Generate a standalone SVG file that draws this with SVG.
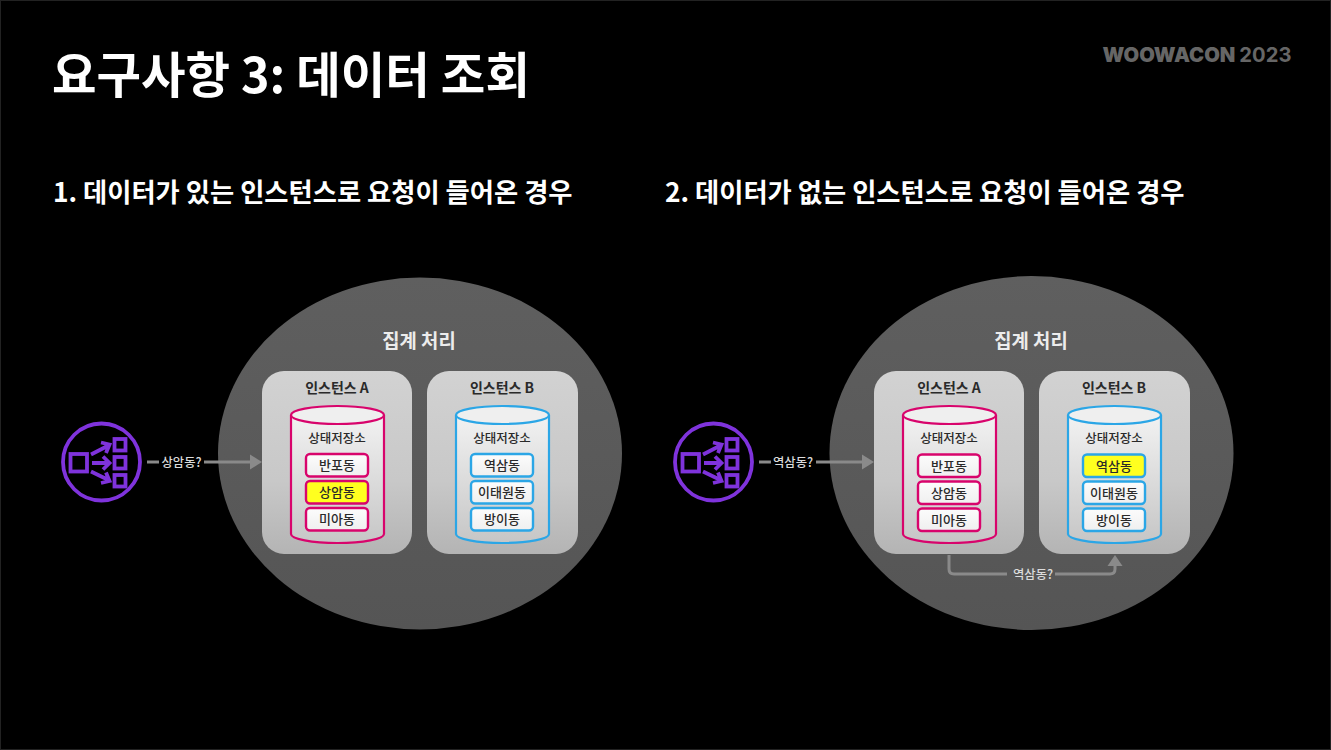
<svg xmlns="http://www.w3.org/2000/svg" width="1331" height="750" viewBox="0 0 1331 750">
<style>
text{font-family:"Noto Sans CJK KR","Noto Sans",sans-serif;text-anchor:middle}
.title{font-size:48.400px;font-weight:700;fill:#fff;text-anchor:start}
.sub{font-size:26.300px;font-weight:700;fill:#fff;text-anchor:start}
.group{font-size:18.800px;font-weight:700;fill:#ececec}
.inst{font-size:14px;font-weight:700;fill:#2a2a2a}
.store{font-size:12.500px;font-weight:500;fill:#2a2a2a}
.pill{font-size:13px;font-weight:500;fill:#2a2a2a}
.q{font-size:12.300px;font-weight:500;fill:#dcdcdc}
.box{fill:url(#boxG)}
.cyl{fill:url(#cylG);stroke-width:2.200}
.top{fill:#efefef;stroke-width:2.200}
.p{fill:url(#pillG);stroke-width:2.400}
.pk{stroke:#d8046c}.bl{stroke:#2ba6e6}
.hi{fill:#ffff1f}
.ic{fill:none;stroke:#7f33dc;stroke-width:3.800}
.line{fill:none;stroke:#8a8a8a;stroke-width:3}
.head{fill:#8a8a8a}
</style>
<defs>
<linearGradient id="boxG" x1="0" y1="0" x2="0" y2="1"><stop offset="0" stop-color="#d2d2d2"/><stop offset="0.6" stop-color="#c8c8c8"/><stop offset="1" stop-color="#b4b4b4"/></linearGradient>
<linearGradient id="cylG" x1="0" y1="0" x2="0" y2="1"><stop offset="0" stop-color="#f2f2f2"/><stop offset="1" stop-color="#c6c6c6"/></linearGradient>
<linearGradient id="pillG" x1="0" y1="0" x2="0" y2="1"><stop offset="0" stop-color="#fcfcfc"/><stop offset="1" stop-color="#efefef"/></linearGradient>
<linearGradient id="regG" x1="0" y1="0" x2="0" y2="1"><stop offset="0" stop-color="#5f5f5f"/><stop offset="1" stop-color="#555"/></linearGradient>
<g id="icon">
<circle class="ic" cx="101.500" cy="462" r="38.500"/>
<rect class="ic" x="70.500" y="454" width="16.500" height="17.500"/>
<rect class="ic" x="114.500" y="439" width="11" height="11.500"/>
<rect class="ic" x="114.500" y="457" width="11" height="11.500"/>
<rect class="ic" x="114.500" y="475" width="11" height="11.500"/>
<path class="ic" d="M91 454.500L108.500 445.500M92 463H108.500M91 471.500L108.500 480M101 442.500L109.500 444.500L106 453M103 456.500L109.500 463L103 469.500M106 472.500L109.500 481L101 483"/>
</g>
</defs>
<rect x="0.500" y="0.500" width="1330" height="749" fill="#000" stroke="#222"/>
<text class="title" x="52" y="93">요구사항 3: 데이터 조회</text>
<text x="1197" y="62" style="font-family:Inter,'Liberation Sans',sans-serif;font-size:20.200px;font-weight:900;fill:#666">WOOWACON <tspan style="font-weight:700">2023</tspan></text>
<text class="sub" x="53" y="202">1. 데이터가 있는 인스턴스로 요청이 들어온 경우</text>
<text class="sub" x="665" y="202">2. 데이터가 없는 인스턴스로 요청이 들어온 경우</text>

<g id="region-left"><ellipse cx="420" cy="453.500" rx="202" ry="176" fill="url(#regG)"/><text class="group" x="419" y="348">집계 처리</text></g>
<g id="region-right"><ellipse cx="1031.500" cy="453" rx="202" ry="177" fill="url(#regG)"/><text class="group" x="1031" y="348">집계 처리</text></g>

<g id="connectors">
<path class="line" d="M147 462H159M204 462H251"/><path class="head" d="M262 462L250 454.500V469.500Z"/>
<path class="line" d="M759 462H771M816 462H863"/><path class="head" d="M874 462L862 454.500V469.500Z"/>
<path class="line" d="M949 555V569Q949 574 954 574H1007M1055 574H1110Q1115 574 1115 569V564"/><path class="head" d="M1115 555L1107.500 566H1122.500Z"/>
<text class="q" x="181.500" y="466.500">상암동?</text>
<text class="q" x="793" y="467">역삼동?</text>
<text class="q" x="1033" y="579">역삼동?</text>
</g>

<g id="source-1"><use href="#icon"/></g>
<g id="source-2" transform="translate(612 0)"><use href="#icon"/></g>

<g id="instance-a1">
<rect class="box" x="262" y="371" width="150" height="183" rx="22"/>
<text class="inst" x="337" y="393">인스턴스 A</text>
<path class="cyl pk" d="M291 415V534C291 539 312 543 337.500 543S384 539 384 534V415"/>
<ellipse class="top pk" cx="337.500" cy="415" rx="46.500" ry="9"/>
<text class="store" x="337" y="443">상태저장소</text>
<rect class="p pk" x="306" y="454" width="62" height="22.500" rx="4"/><text class="pill" x="337" y="470">반포동</text>
<rect class="p pk hi" x="306" y="481" width="62" height="22.500" rx="4"/><text class="pill" x="337" y="497">상암동</text>
<rect class="p pk" x="306" y="508" width="62" height="22.500" rx="4"/><text class="pill" x="337" y="524">미아동</text>
</g>
<g id="instance-b1">
<rect class="box" x="427" y="371" width="151" height="183" rx="22"/>
<text class="inst" x="502" y="393">인스턴스 B</text>
<path class="cyl bl" d="M456 415V534C456 539 477 543 502.500 543S549 539 549 534V415"/>
<ellipse class="top bl" cx="502.500" cy="415" rx="46.500" ry="9"/>
<text class="store" x="502" y="443">상태저장소</text>
<rect class="p bl" x="471" y="454" width="62" height="22.500" rx="4"/><text class="pill" x="502" y="470">역삼동</text>
<rect class="p bl" x="471" y="481" width="62" height="22.500" rx="4"/><text class="pill" x="502" y="497">이태원동</text>
<rect class="p bl" x="471" y="508" width="62" height="22.500" rx="4"/><text class="pill" x="502" y="524">방이동</text>
</g>
<g id="instance-a2">
<rect class="box" x="874" y="371" width="150" height="183" rx="22"/>
<text class="inst" x="949" y="393">인스턴스 A</text>
<path class="cyl pk" d="M903 415V534C903 539 924 543 949.500 543S996 539 996 534V415"/>
<ellipse class="top pk" cx="949.500" cy="415" rx="46.500" ry="9"/>
<text class="store" x="949" y="443">상태저장소</text>
<rect class="p pk" x="918" y="454.500" width="62" height="22.500" rx="4"/><text class="pill" x="949" y="470.500">반포동</text>
<rect class="p pk" x="918" y="481.500" width="62" height="22.500" rx="4"/><text class="pill" x="949" y="497.500">상암동</text>
<rect class="p pk" x="918" y="508.500" width="62" height="22.500" rx="4"/><text class="pill" x="949" y="524.500">미아동</text>
</g>
<g id="instance-b2">
<rect class="box" x="1039" y="371" width="151" height="183" rx="22"/>
<text class="inst" x="1114" y="393">인스턴스 B</text>
<path class="cyl bl" d="M1068 415V534C1068 539 1089 543 1114.500 543S1161 539 1161 534V415"/>
<ellipse class="top bl" cx="1114.500" cy="415" rx="46.500" ry="9"/>
<text class="store" x="1114" y="443">상태저장소</text>
<rect class="p bl hi" x="1083" y="454.500" width="62" height="22.500" rx="4"/><text class="pill" x="1114" y="470.500">역삼동</text>
<rect class="p bl" x="1083" y="481.500" width="62" height="22.500" rx="4"/><text class="pill" x="1114" y="497.500">이태원동</text>
<rect class="p bl" x="1083" y="508.500" width="62" height="22.500" rx="4"/><text class="pill" x="1114" y="524.500">방이동</text>
</g>
</svg>
